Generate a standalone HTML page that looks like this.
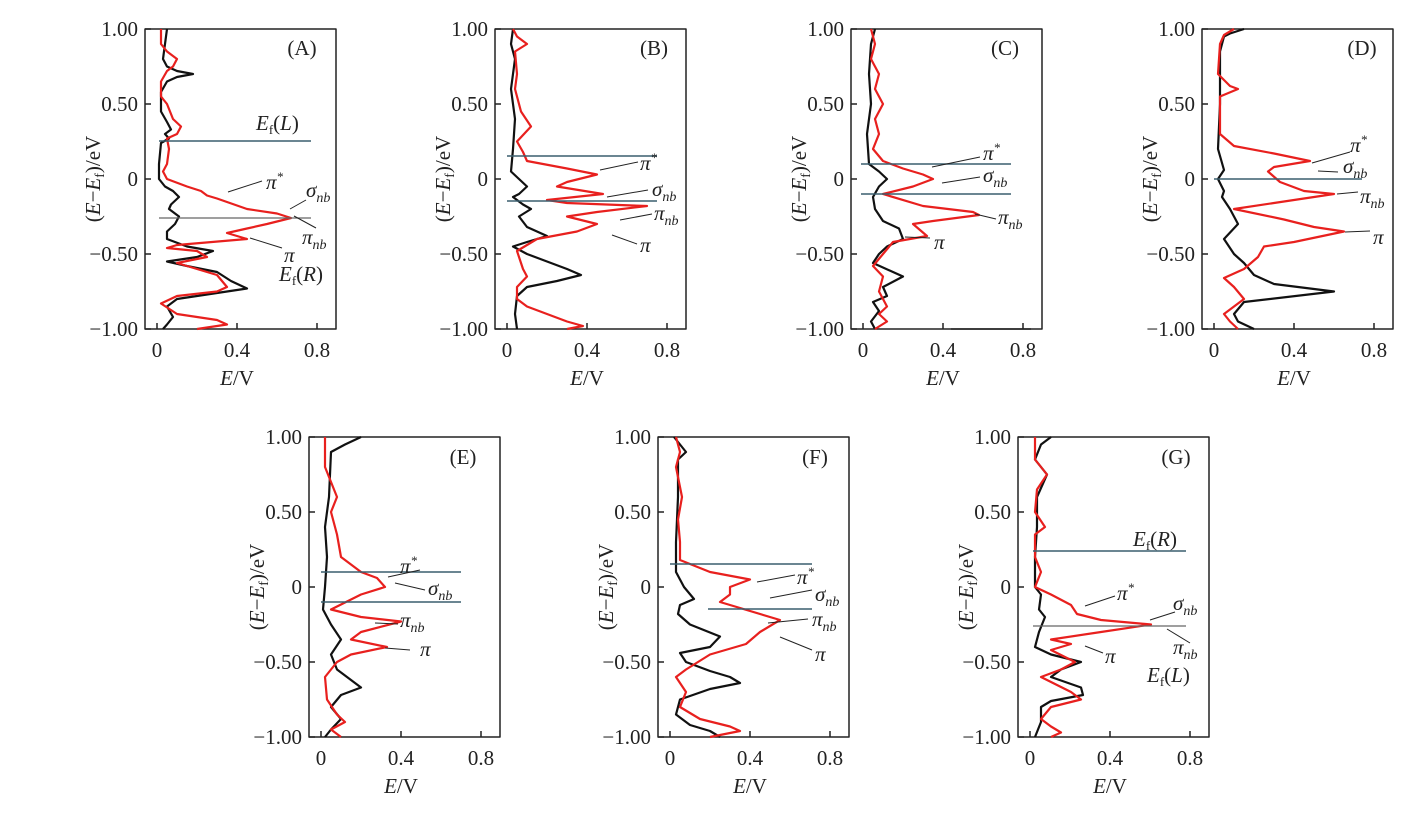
<!DOCTYPE html>
<html><head><meta charset="utf-8"><style>
html,body{margin:0;padding:0;background:#fff;}
svg{display:block;font-family:"Liberation Serif",serif;}
.t{font-size:21px;fill:#222;}
.a{font-size:21px;fill:#222;font-style:italic;}
</style></head><body>
<svg width="1410" height="832" viewBox="0 0 1410 832" xmlns="http://www.w3.org/2000/svg">
<defs>
<g id="frame">
<rect x="0" y="0" width="191" height="300" fill="none" stroke="#222" stroke-width="1.5"/>
<path d="M0 0h6M0 75h6M0 150h6M0 225h6M0 300h6M12 300v-6M92 300v-6M172 300v-6" stroke="#222" stroke-width="1.5"/>
<g class="t" text-anchor="end">
<text x="-7" y="7">1.00</text><text x="-7" y="82">0.50</text><text x="-7" y="157">0</text><text x="-7" y="232">−0.50</text><text x="-7" y="307">−1.00</text>
</g>
<g class="t" text-anchor="middle">
<text x="12" y="328">0</text><text x="92" y="328">0.4</text><text x="172" y="328">0.8</text>
<text x="92" y="356"><tspan font-style="italic">E</tspan>/V</text>
<text transform="translate(-45,150) rotate(-90)">(<tspan font-style="italic">E</tspan>−<tspan font-style="italic">E</tspan><tspan font-size="14" dy="4">f</tspan><tspan dy="-4">)/eV</tspan></text>
</g>
</g>
</defs>
<g fill="none" stroke-width="2.2" stroke-linejoin="round">
<!-- A -->
<g transform="translate(145,29)">
<use href="#frame"/>
<g transform="translate(12,150) scale(200,-150)">
<polyline vector-effect="non-scaling-stroke" stroke="#111" points="0.05,1 0.04,0.9 0.03,0.8 0.05,0.75 0.1,0.72 0.18,0.7 0.1,0.68 0.05,0.65 0.02,0.58 0.02,0.45 0.05,0.38 0.07,0.33 0.04,0.3 0.06,0.27 0.02,0.24 0.01,0.1 0.01,0 0.04,-0.05 0.08,-0.08 0.11,-0.12 0.07,-0.17 0.06,-0.2 0.11,-0.25 0.09,-0.3 0.05,-0.35 0.05,-0.4 0.15,-0.45 0.28,-0.48 0.2,-0.52 0.05,-0.55 0.15,-0.58 0.3,-0.62 0.37,-0.68 0.45,-0.73 0.35,-0.75 0.1,-0.8 0.05,-0.85 0.08,-0.92 0.05,-0.97 0.03,-1"/>
<polyline vector-effect="non-scaling-stroke" stroke="#e8201e" points="0.02,1 0.02,0.9 0.05,0.85 0.1,0.8 0.08,0.75 0.05,0.72 0.02,0.65 0.02,0.55 0.05,0.5 0.08,0.4 0.12,0.35 0.1,0.3 0.05,0.27 0.06,0.2 0.05,0.1 0.03,0.05 0.05,0 0.15,-0.05 0.22,-0.08 0.25,-0.11 0.3,-0.13 0.45,-0.2 0.6,-0.23 0.67,-0.26 0.55,-0.3 0.45,-0.33 0.35,-0.36 0.4,-0.38 0.45,-0.4 0.1,-0.44 0.05,-0.46 0.2,-0.48 0.25,-0.52 0.1,-0.56 0.2,-0.6 0.3,-0.64 0.35,-0.72 0.3,-0.75 0.1,-0.78 0.02,-0.83 0.1,-0.9 0.3,-0.94 0.35,-0.97 0.2,-1"/>
</g>
<path d="M14 112H166" stroke="#3a5f6f" stroke-width="1.5"/>
<path d="M14 189H166" stroke="#666" stroke-width="1.2"/>
</g>
<!-- B -->
<g transform="translate(495,29)">
<use href="#frame"/>
<g transform="translate(12,150) scale(200,-150)">
<polyline vector-effect="non-scaling-stroke" stroke="#111" points="0.03,1 0.02,0.9 0.04,0.8 0.02,0.6 0.04,0.4 0.03,0.2 0.02,0.05 0.06,0 0.1,-0.05 0.06,-0.1 0.03,-0.12 0.08,-0.17 0.12,-0.2 0.06,-0.25 0.1,-0.32 0.2,-0.38 0.1,-0.42 0.03,-0.45 0.1,-0.5 0.2,-0.55 0.3,-0.6 0.37,-0.64 0.25,-0.68 0.1,-0.72 0.05,-0.78 0.04,-0.9 0.05,-1"/>
<polyline vector-effect="non-scaling-stroke" stroke="#e8201e" points="0.03,1 0.05,0.95 0.1,0.9 0.04,0.85 0.05,0.7 0.04,0.6 0.07,0.45 0.12,0.35 0.05,0.25 0.08,0.18 0.1,0.12 0.3,0.07 0.45,0.03 0.3,-0.02 0.25,-0.05 0.48,-0.1 0.2,-0.14 0.3,-0.16 0.7,-0.18 0.45,-0.22 0.3,-0.25 0.45,-0.3 0.35,-0.35 0.15,-0.4 0.05,-0.48 0.08,-0.6 0.1,-0.65 0.05,-0.72 0.05,-0.8 0.1,-0.85 0.2,-0.9 0.3,-0.95 0.38,-0.98 0.3,-1"/>
</g>
<path d="M12 127H162" stroke="#3a5f6f" stroke-width="1.5"/>
<path d="M12 172H162" stroke="#3a5f6f" stroke-width="1.5"/>
</g>
<!-- C -->
<g transform="translate(851,29)">
<use href="#frame"/>
<g transform="translate(12,150) scale(200,-150)">
<polyline vector-effect="non-scaling-stroke" stroke="#111" points="0.06,1 0.04,0.9 0.03,0.7 0.04,0.5 0.02,0.3 0.03,0.1 0.08,0.05 0.12,0 0.08,-0.05 0.05,-0.12 0.06,-0.2 0.1,-0.28 0.18,-0.33 0.2,-0.4 0.12,-0.45 0.08,-0.5 0.05,-0.56 0.15,-0.62 0.2,-0.65 0.1,-0.72 0.12,-0.78 0.05,-0.82 0.08,-0.88 0.04,-0.95 0.06,-1"/>
<polyline vector-effect="non-scaling-stroke" stroke="#e8201e" points="0.04,1 0.06,0.9 0.04,0.8 0.08,0.7 0.06,0.6 0.1,0.5 0.06,0.4 0.08,0.3 0.05,0.2 0.1,0.12 0.2,0.07 0.3,0.03 0.35,0 0.25,-0.05 0.1,-0.1 0.3,-0.18 0.55,-0.22 0.58,-0.24 0.35,-0.28 0.25,-0.3 0.32,-0.38 0.15,-0.42 0.1,-0.5 0.05,-0.58 0.1,-0.65 0.08,-0.75 0.12,-0.85 0.08,-0.9 0.12,-0.95 0.06,-1"/>
</g>
<path d="M10 135H160" stroke="#3a5f6f" stroke-width="1.5"/>
<path d="M10 165H160" stroke="#3a5f6f" stroke-width="1.5"/>
<path d="M100 300H180" stroke="#222" stroke-width="1.5"/>
</g>
<!-- D -->
<g transform="translate(1202,29)">
<use href="#frame"/>
<g transform="translate(12,150) scale(200,-150)">
<polyline vector-effect="non-scaling-stroke" stroke="#111" points="0.15,1 0.08,0.97 0.05,0.95 0.03,0.85 0.03,0.5 0.02,0.2 0.05,0.06 0.02,0 0.05,-0.08 0.04,-0.12 0.08,-0.2 0.12,-0.3 0.05,-0.4 0.1,-0.5 0.15,-0.56 0.2,-0.64 0.3,-0.7 0.6,-0.75 0.15,-0.82 0.1,-0.9 0.12,-0.95 0.2,-1"/>
<polyline vector-effect="non-scaling-stroke" stroke="#e8201e" points="0.1,1 0.05,0.96 0.03,0.9 0.02,0.7 0.08,0.62 0.12,0.6 0.03,0.55 0.03,0.3 0.1,0.22 0.3,0.17 0.48,0.12 0.3,0.08 0.27,0.05 0.33,-0.02 0.45,-0.08 0.6,-0.1 0.3,-0.16 0.1,-0.2 0.35,-0.27 0.5,-0.32 0.65,-0.35 0.4,-0.42 0.25,-0.45 0.22,-0.52 0.15,-0.6 0.05,-0.66 0.1,-0.72 0.15,-0.8 0.1,-0.85 0.05,-0.9 0.08,-0.95 0.12,-1"/>
</g>
<path d="M12 150H160" stroke="#3a5f6f" stroke-width="1.5"/>
</g>
<!-- E -->
<g transform="translate(309,437)">
<use href="#frame"/>
<g transform="translate(12,150) scale(200,-150)">
<polyline vector-effect="non-scaling-stroke" stroke="#111" points="0.2,1 0.12,0.95 0.05,0.9 0.04,0.6 0.02,0.4 0.03,0.2 0.02,0 0.01,-0.15 0.05,-0.25 0.1,-0.35 0.05,-0.45 0.08,-0.55 0.15,-0.62 0.2,-0.67 0.1,-0.72 0.05,-0.8 0.1,-0.88 0.05,-0.95 0.02,-1"/>
<polyline vector-effect="non-scaling-stroke" stroke="#e8201e" points="0.02,1 0.02,0.8 0.05,0.7 0.08,0.6 0.05,0.5 0.08,0.35 0.1,0.2 0.2,0.1 0.28,0.06 0.32,0 0.2,-0.05 0.05,-0.15 0.2,-0.2 0.4,-0.23 0.2,-0.3 0.15,-0.35 0.33,-0.4 0.15,-0.45 0.08,-0.5 0.02,-0.6 0.03,-0.75 0.08,-0.85 0.12,-0.9 0.05,-0.95 0.1,-1"/>
</g>
<path d="M12 135H152" stroke="#3a5f6f" stroke-width="1.5"/>
<path d="M12 165H152" stroke="#3a5f6f" stroke-width="1.5"/>
</g>
<!-- F -->
<g transform="translate(658,437)">
<use href="#frame"/>
<g transform="translate(12,150) scale(200,-150)">
<polyline vector-effect="non-scaling-stroke" stroke="#111" points="0.02,1 0.05,0.95 0.08,0.9 0.04,0.85 0.04,0.6 0.03,0.3 0.03,0.1 0.07,0 0.12,-0.08 0.05,-0.12 0.04,-0.18 0.1,-0.25 0.25,-0.33 0.2,-0.4 0.05,-0.44 0.08,-0.5 0.2,-0.56 0.3,-0.6 0.35,-0.64 0.2,-0.68 0.05,-0.75 0.03,-0.85 0.1,-0.92 0.2,-0.96 0.25,-1"/>
<polyline vector-effect="non-scaling-stroke" stroke="#e8201e" points="0.03,1 0.05,0.9 0.03,0.8 0.06,0.6 0.04,0.45 0.05,0.3 0.05,0.18 0.2,0.1 0.4,0.05 0.3,0 0.3,-0.05 0.25,-0.1 0.55,-0.22 0.45,-0.3 0.38,-0.38 0.2,-0.45 0.08,-0.55 0.03,-0.6 0.08,-0.7 0.05,-0.8 0.15,-0.88 0.3,-0.93 0.35,-0.96 0.2,-1"/>
</g>
<path d="M12 127H154" stroke="#3a5f6f" stroke-width="1.5"/>
<path d="M50 172H154" stroke="#3a5f6f" stroke-width="1.5"/>
</g>
<!-- G -->
<g transform="translate(1018,437)">
<use href="#frame"/>
<g transform="translate(13,150) scale(200,-150)">
<polyline vector-effect="non-scaling-stroke" stroke="#111" points="0.1,1 0.05,0.95 0.02,0.85 0.08,0.75 0.03,0.6 0.03,0.4 0.02,0.2 0.02,0 0.05,-0.05 0.04,-0.15 0.07,-0.2 0.04,-0.3 0.02,-0.4 0.1,-0.45 0.25,-0.5 0.15,-0.55 0.1,-0.6 0.25,-0.67 0.26,-0.72 0.1,-0.76 0.05,-0.8 0.05,-0.9 0.02,-1"/>
<polyline vector-effect="non-scaling-stroke" stroke="#e8201e" points="0.02,1 0.02,0.85 0.08,0.75 0.03,0.65 0.02,0.5 0.07,0.4 0.02,0.35 0.02,0.2 0.05,0.1 0.02,0 0.1,-0.05 0.2,-0.12 0.23,-0.18 0.35,-0.22 0.6,-0.25 0.35,-0.3 0.1,-0.35 0.2,-0.38 0.1,-0.42 0.22,-0.5 0.15,-0.55 0.05,-0.6 0.2,-0.7 0.25,-0.75 0.1,-0.8 0.05,-0.88 0.1,-0.93 0.15,-0.97 0.1,-1"/>
</g>
<path d="M15 114H168" stroke="#3a5f6f" stroke-width="1.5"/>
<path d="M15 189H168" stroke="#666" stroke-width="1.2"/>
</g>
</g>
<!-- leaders -->
<g stroke="#222" stroke-width="1">
<path d="M228 192L262 181M290 209L306 200M294 216L316 228M250 238L282 248"/>
<path d="M600 170L638 162M607 197L648 190M620 220L652 214M612 235L637 244"/>
<path d="M932 167L980 157M942 183L980 177M975 214L996 219M905 237L930 238"/>
<path d="M1312 163L1350 152M1318 171L1338 172M1337 194L1358 192M1345 232L1370 231"/>
<path d="M388 577L420 570M395 583L425 590M375 623L398 624M385 648L410 650"/>
<path d="M757 582L795 575M770 598L812 590M768 623L808 619M780 637L812 650"/>
<path d="M1085 606L1115 596M1175 612L1150 620M1167 629L1190 643M1085 646L1103 653"/>
</g>
<g class="a">
<text x="266" y="189">π<tspan font-size="13" dy="-8">*</tspan></text>
<text x="306" y="197">σ<tspan font-size="14" dy="5">nb</tspan></text>
<text x="302" y="244">π<tspan font-size="14" dy="5">nb</tspan></text>
<text x="284" y="262">π</text>
<text x="256" y="130">E<tspan font-style="normal" font-size="13" dy="4">f</tspan><tspan font-style="normal" dy="-4">(</tspan>L<tspan font-style="normal">)</tspan></text>
<text x="279" y="281">E<tspan font-style="normal" font-size="13" dy="4">f</tspan><tspan font-style="normal" dy="-4">(</tspan>R<tspan font-style="normal">)</tspan></text>

<text x="640" y="170">π<tspan font-size="13" dy="-8">*</tspan></text>
<text x="652" y="196">σ<tspan font-size="14" dy="5">nb</tspan></text>
<text x="654" y="220">π<tspan font-size="14" dy="5">nb</tspan></text>
<text x="640" y="252">π</text>

<text x="983" y="160">π<tspan font-size="13" dy="-8">*</tspan></text>
<text x="983" y="182">σ<tspan font-size="14" dy="5">nb</tspan></text>
<text x="998" y="224">π<tspan font-size="14" dy="5">nb</tspan></text>
<text x="934" y="249">π</text>

<text x="1350" y="152">π<tspan font-size="13" dy="-8">*</tspan></text>
<text x="1343" y="173">σ<tspan font-size="14" dy="5">nb</tspan></text>
<text x="1360" y="203">π<tspan font-size="14" dy="5">nb</tspan></text>
<text x="1373" y="244">π</text>

<text x="400" y="573">π<tspan font-size="13" dy="-8">*</tspan></text>
<text x="428" y="595">σ<tspan font-size="14" dy="5">nb</tspan></text>
<text x="400" y="627">π<tspan font-size="14" dy="5">nb</tspan></text>
<text x="420" y="656">π</text>

<text x="797" y="584">π<tspan font-size="13" dy="-8">*</tspan></text>
<text x="815" y="601">σ<tspan font-size="14" dy="5">nb</tspan></text>
<text x="812" y="626">π<tspan font-size="14" dy="5">nb</tspan></text>
<text x="815" y="661">π</text>

<text x="1133" y="546">E<tspan font-style="normal" font-size="13" dy="4">f</tspan><tspan font-style="normal" dy="-4">(</tspan>R<tspan font-style="normal">)</tspan></text>
<text x="1117" y="600">π<tspan font-size="13" dy="-8">*</tspan></text>
<text x="1173" y="610">σ<tspan font-size="14" dy="5">nb</tspan></text>
<text x="1173" y="654">π<tspan font-size="14" dy="5">nb</tspan></text>
<text x="1105" y="663">π</text>
<text x="1147" y="682">E<tspan font-style="normal" font-size="13" dy="4">f</tspan><tspan font-style="normal" dy="-4">(</tspan>L<tspan font-style="normal">)</tspan></text>
</g>
<g class="t" text-anchor="middle">
<text x="302" y="55">(A)</text><text x="654" y="55">(B)</text><text x="1005" y="55">(C)</text><text x="1362" y="55">(D)</text>
<text x="463" y="464">(E)</text><text x="815" y="464">(F)</text><text x="1176" y="464">(G)</text>
</g>
</svg>
</body></html>
